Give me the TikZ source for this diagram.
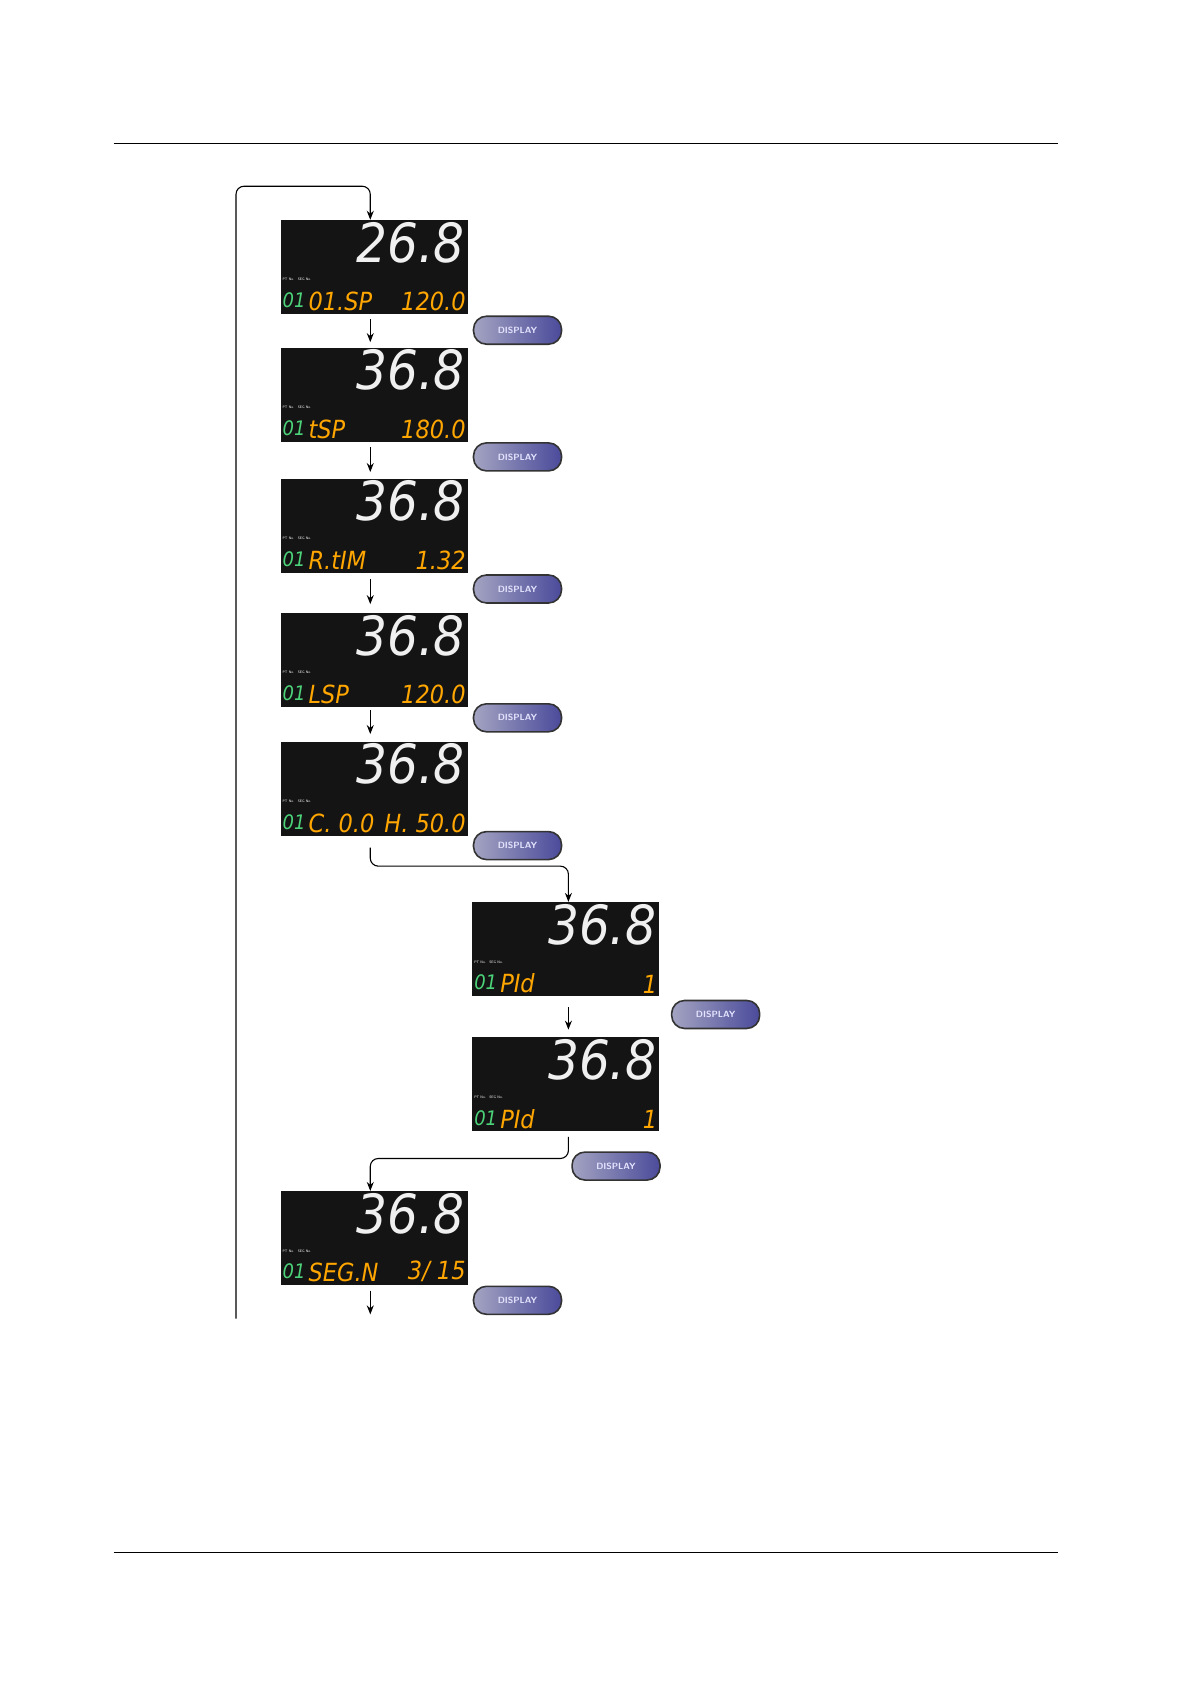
\documentclass[tikz,border=0pt]{standalone}
\usepackage{fontspec}
\newfontfamily\lcdf{DejaVu Sans Condensed}
\usetikzlibrary{arrows.meta}
\tikzset{
 lcdbox/.style={fill=black!92, minimum width=187pt, minimum height=94pt, inner sep=0pt, anchor=north west},
 btn/.style={draw=black!80, line width=1.6pt, rounded corners=13pt, minimum width=88pt, minimum height=28pt,
   left color=blue!20!gray!60!white, right color=blue!35!gray!90!black, text=white!90!blue,
   font=\sffamily\bfseries\small, inner sep=0pt},
 conn/.style={line width=1.1pt, -{Stealth[length=9pt,width=7pt]}, rounded corners=8pt},
 big/.style={text=white!88!gray, font=\lcdf\itshape\fontsize{54}{54}\selectfont, anchor=north east, inner sep=0pt},
 yel/.style={text=orange!70!yellow, font=\lcdf\itshape\fontsize{25}{25}\selectfont, inner sep=0pt},
 grn/.style={text=green!50!teal!70!white, font=\lcdf\itshape\fontsize{20}{20}\selectfont, inner sep=0pt, anchor=south west},
 tiny/.style={text=white, font=\sffamily\fontsize{3.5}{3.5}\selectfont, inner sep=0pt, anchor=south west}
}
\newcommand\lcd[6]{%
 \node[lcdbox] (#1) at (#2,#3) {};
 \node[big] (#1big) at ([xshift=-3pt,yshift=-2pt]#1.north east) {#4};
 \node[grn] (#1pt) at ([xshift=2pt,yshift=6pt]#1.south west) {01};
 \node[tiny] (#1lab) at ([xshift=2pt,yshift=33pt]#1.south west) {PT No.\quad SEG No.};
 \node[yel,anchor=south west] (#1l) at ([xshift=28pt,yshift=3pt]#1.south west) {#5};
 \node[yel,anchor=south east] (#1r) at ([xshift=-2pt,yshift=3pt]#1.south east) {#6};
}
\begin{document}
\begin{tikzpicture}[x=1.0827pt,y=-1.0827pt]
\useasboundingbox (0,0) rectangle (1100,1555.4);
\draw[line width=0.6pt] (105,132) -- (977,132);
\draw[line width=0.6pt] (105,1434) -- (977,1434);
\lcd{p1}{259}{203}{26.8}{01.SP}{120.0}
\lcd{p2}{259}{321}{36.8}{tSP}{180.0}
\lcd{p3}{259}{442}{36.8}{R.tIM}{1.32}
\lcd{p4}{259}{566}{36.8}{LSP}{120.0}
\lcd{p5}{259}{685}{36.8}{C. 0.0}{H. 50.0}
\lcd{p6}{436}{833}{36.8}{PId}{1}
\lcd{p7}{436}{958}{36.8}{PId}{1}
\lcd{p8}{259}{1100}{36.8}{SEG.N}{3/ 15}
\node[btn] (b1) at (478,305) {DISPLAY};
\node[btn] (b2) at (478,422) {DISPLAY};
\node[btn] (b3) at (478,544) {DISPLAY};
\node[btn] (b4) at (478,663) {DISPLAY};
\node[btn] (b5) at (478,781) {DISPLAY};
\node[btn] (b6) at (661,937) {DISPLAY};
\node[btn] (b7) at (569,1077) {DISPLAY};
\node[btn] (b8) at (478,1201) {DISPLAY};
\coordinate (a1s) at (342,295); \coordinate (a1e) at (342,316);
\coordinate (a2s) at (342,413); \coordinate (a2e) at (342,436);
\coordinate (a3s) at (342,535); \coordinate (a3e) at (342,558);
\coordinate (a4s) at (342,656); \coordinate (a4e) at (342,678);
\coordinate (a6s) at (525,930); \coordinate (a6e) at (525,951);
\coordinate (a8s) at (342,1192); \coordinate (a8e) at (342,1214);
\foreach \i in {1,2,3,4,6,8} \draw[conn] (a\i s) -- (a\i e);
\coordinate (lb) at (218,1218);
\draw[conn] (lb) -- (218,172) -- (342,172) -- (p1.north -| 342,0);
\draw[conn] (342,783) -- (342,800) -- (525,800) -- (p6.north -| 525,0);
\draw[conn] (525,1050) -- (525,1070) -- (342,1070) -- (p8.north -| 342,0);
\end{tikzpicture}
\end{document}
